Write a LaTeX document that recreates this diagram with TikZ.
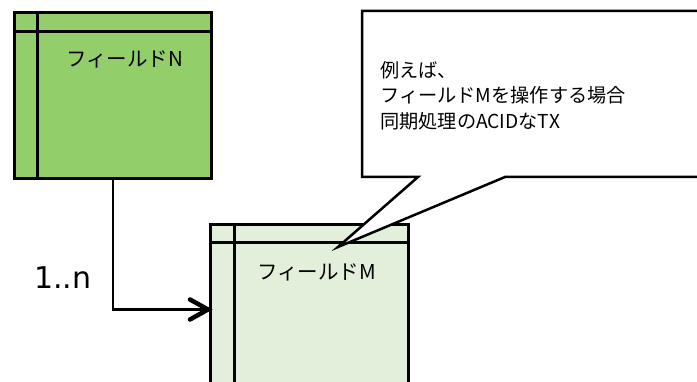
\documentclass[tikz,border=0pt]{standalone}
\usepackage{fontspec}
\setmainfont{DejaVu Sans}
\newfontfamily\jpfont{Noto Sans CJK JP}
\usetikzlibrary{calc}
\definecolor{boxgreen}{RGB}{146,206,106}
\definecolor{lightgreen}{RGB}{226,239,218}
\tikzset{
  entity/.style={draw=black, line width=3pt, anchor=north west, inner sep=0pt},
  divider/.style={black, line width=3pt},
  conn/.style={black, line width=2.5pt},
  arrowhead/.style={black, line width=4.5pt, line cap=round, line join=miter},
  jplabel/.style={font=\jpfont\fontsize{20.5}{24}\selectfont, anchor=west, inner sep=0pt},
  calloutbox/.style={draw=black, fill=white, line width=2.5pt, line join=miter},
}
\begin{document}
\begin{tikzpicture}[x=1pt, y=1pt]
\useasboundingbox (0,0) rectangle (697,-382);
\clip (0,0) rectangle (697,-382);
% Entity N
\node[entity, fill=boxgreen, minimum width=197pt, minimum height=166pt] (N) at (13,-11) {};
\draw[divider] (N.north west) ++(24,0) coordinate (nv1) -- (nv1 |- N.south);
\draw[divider] (N.north west) ++(0,-21) coordinate (nh1) -- (nh1 -| N.east);
\node[jplabel] (Nlabel) at (66,-59) {フィールドN};
% Entity M
\node[entity, fill=lightgreen, minimum width=198pt, minimum height=170pt] (M) at (209,-223) {};
\draw[divider] (M.north west) ++(25,0) coordinate (mv1) -- (mv1 |- M.south);
\draw[divider] (M.north west) ++(0,-20) coordinate (mh1) -- (mh1 -| M.east);
\node[jplabel] (Mlabel) at (257,-272) {フィールドM};
% connector
\draw[conn] (N.south) |- (M.west);
\draw[arrowhead] ($(M.west)+(-19,10)$) -- ($(M.west)+(-1,0)$) -- ($(M.west)+(-19,-10)$);
\node[font=\fontsize{30}{36}\selectfont, anchor=west, inner sep=0pt] (mult) at (34,-278) {1..n};
% callout
\coordinate (tip) at (338,-247);
\draw[calloutbox] (705,-11) -- (362,-11) -- (362,-177) -- (418,-177) -- (tip) -- (505,-177) -- (705,-177);
\node[font=\jpfont\fontsize{19.2}{25.5}\selectfont, anchor=north west, align=left, inner sep=0pt] (note) at (380,-61)
  {例えば、\\フィールドMを操作する場合\\同期処理のACIDなTX};
\end{tikzpicture}
\end{document}
